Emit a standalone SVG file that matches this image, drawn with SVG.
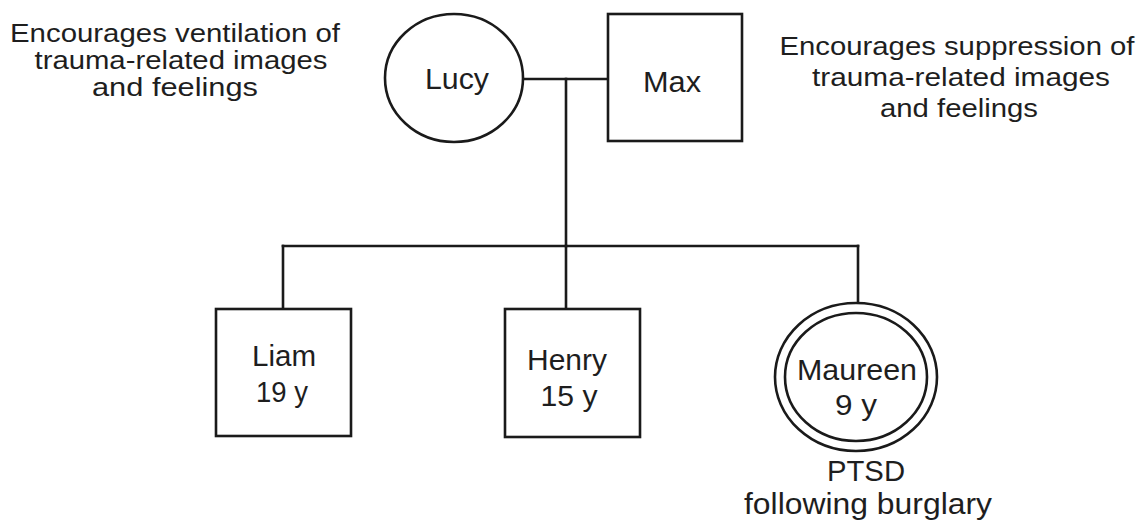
<svg xmlns="http://www.w3.org/2000/svg" width="1148" height="527" viewBox="0 0 1148 527">
  <style>
    .shape { fill: #ffffff; stroke: #1a1a1a; stroke-width: 2.6; }
    .link { fill: none; stroke: #1a1a1a; stroke-width: 2.6; stroke-linecap: square; }
    text { font-family: "Liberation Sans", Arial, Helvetica, sans-serif; fill: #1e1e1e; text-anchor: middle; }
    .name { font-size: 29px; }
    .note { font-size: 25px; }
  </style>
  <rect width="1148" height="527" fill="#ffffff"/>

  <!-- family lines: couple, descent, sibship, drops to children -->
  <g id="connectors">
    <path class="link" d="M523 79 H608"/>
    <path class="link" d="M566 79 V246"/>
    <path class="link" d="M283 246 H858"/>
    <path class="link" d="M283 246 V309"/>
    <path class="link" d="M566 246 V309"/>
    <path class="link" d="M858 246 V303"/>
  </g>

  <g id="lucy">
    <ellipse class="shape" cx="454" cy="78" rx="69" ry="64"/>
    <text class="name" x="457" y="89" textLength="64" lengthAdjust="spacingAndGlyphs">Lucy</text>
  </g>

  <g id="max">
    <rect class="shape" x="608" y="14" width="134" height="127"/>
    <text class="name" x="672" y="92" textLength="58" lengthAdjust="spacingAndGlyphs">Max</text>
  </g>

  <g id="liam">
    <rect class="shape" x="216" y="309" width="135" height="127"/>
    <text class="name" x="284" y="366" textLength="64" lengthAdjust="spacingAndGlyphs">Liam</text>
    <text class="name" x="282" y="402" textLength="52" lengthAdjust="spacingAndGlyphs">19 y</text>
  </g>

  <g id="henry">
    <rect class="shape" x="505" y="309" width="135" height="128"/>
    <text class="name" x="567" y="370" textLength="80" lengthAdjust="spacingAndGlyphs">Henry</text>
    <text class="name" x="569" y="406" textLength="57" lengthAdjust="spacingAndGlyphs">15 y</text>
  </g>

  <!-- index patient: double circle -->
  <g id="maureen">
    <ellipse class="shape" cx="856" cy="377" rx="81" ry="74"/>
    <ellipse class="shape" cx="856" cy="377" rx="71" ry="64"/>
    <text class="name" x="857" y="380" textLength="120" lengthAdjust="spacingAndGlyphs">Maureen</text>
    <text class="name" x="856" y="415" textLength="42" lengthAdjust="spacingAndGlyphs">9 y</text>
    <text class="name" x="866" y="481" textLength="78" lengthAdjust="spacingAndGlyphs">PTSD</text>
    <text class="name" x="868" y="514" textLength="248" lengthAdjust="spacingAndGlyphs">following burglary</text>
  </g>

  <g id="lucy-note">
    <text class="note" x="175" y="42" textLength="330" lengthAdjust="spacingAndGlyphs">Encourages ventilation of</text>
    <text class="note" x="181" y="69" textLength="293" lengthAdjust="spacingAndGlyphs">trauma-related images</text>
    <text class="note" x="175" y="96" textLength="166" lengthAdjust="spacingAndGlyphs">and feelings</text>
  </g>

  <g id="max-note">
    <text class="note" x="957" y="55" textLength="355" lengthAdjust="spacingAndGlyphs">Encourages suppression of</text>
    <text class="note" x="961" y="86" textLength="298" lengthAdjust="spacingAndGlyphs">trauma-related images</text>
    <text class="note" x="959" y="117" textLength="158" lengthAdjust="spacingAndGlyphs">and feelings</text>
  </g>
</svg>
